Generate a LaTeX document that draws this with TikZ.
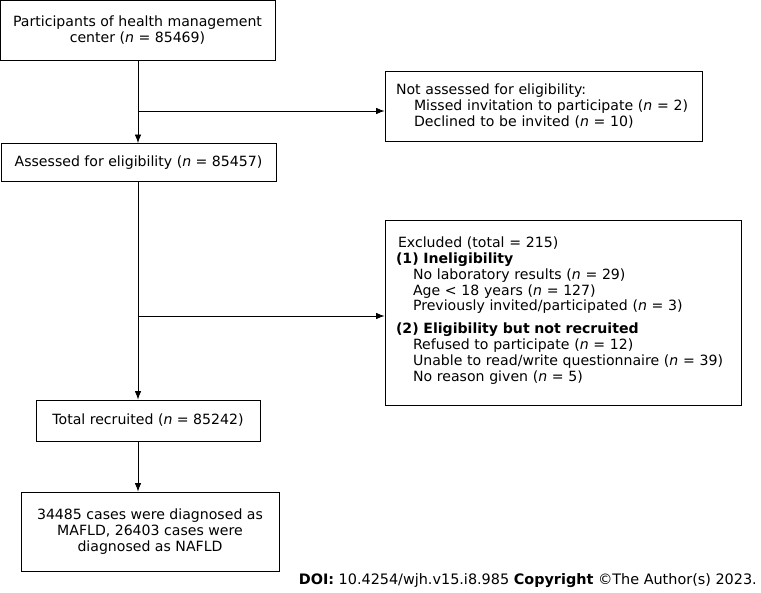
\documentclass[tikz,border=0pt]{standalone}
\usepackage{fontspec}
\setmainfont{DejaVu Sans}
\usetikzlibrary{arrows.meta}
\begin{document}
\begin{tikzpicture}[x=1pt,y=-1pt,
  every node/.style={font=\fontsize{14.1}{15.8}\selectfont},
  box/.style={draw,line width=0.8pt,inner sep=0pt,align=center},
  lbox/.style={draw,line width=0.8pt,inner ysep=0pt,inner xsep=11pt,align=left},
  conn/.style={line width=0.8pt},
  arr/.style={conn,-{Latex[length=8.5pt,width=6.5pt]}}]
\useasboundingbox (0,0) rectangle (761,593);
\node[box,minimum width=275pt,minimum height=60pt] (p) at (137.5,30) {Participants of health management\\center (\textit{n} = 85469)};
\node[box,minimum width=275pt,minimum height=38pt] (a) at (138.5,162.5) {Assessed for eligibility (\textit{n} = 85457)};
\node[box,minimum width=224pt,minimum height=41pt] (t) at (148,420.5) {Total recruited (\textit{n} = 85242)};
\node[box,minimum width=258pt,minimum height=79pt] (d) at (150,531.5) {34485 cases were diagnosed as\\MAFLD, 26403 cases were\\diagnosed as NAFLD};
\node[lbox,minimum width=317pt,minimum height=70pt,text width=295pt] (n) at (543.5,106) {Not assessed for eligibility:\\
\hspace*{18pt}Missed invitation to participate (\textit{n} = 2)\\
\hspace*{18pt}Declined to be invited (\textit{n} = 10)};
\node[lbox,minimum width=356pt,minimum height=185pt,text width=334pt] (e) at (563,312.5) {\hspace*{2pt}Excluded (total = 215)\\
\textbf{(1) Ineligibility}\\
\hspace*{17pt}No laboratory results (\textit{n} = 29)\\
\hspace*{17pt}Age \textless\ 18 years (\textit{n} = 127)\\
\hspace*{17pt}Previously invited/participated (\textit{n} = 3)\\[7pt]
\textbf{(2) Eligibility but not recruited}\\
\hspace*{17pt}Refused to participate (\textit{n} = 12)\\
\hspace*{17pt}Unable to read/write questionnaire (\textit{n} = 39)\\
\hspace*{17pt}No reason given (\textit{n} = 5)\\[-9pt]\mbox{}};
\coordinate (b1) at (138,111);
\coordinate (b2) at (138,316);
\draw[arr] (p.south -| b1) -- (a.north -| b1);
\draw[arr] (b1) -- (b1 -| n.west);
\draw[arr] (a.south -| b1) -- (t.north -| b1);
\draw[arr] (b2) -- (b2 -| e.west);
\draw[arr] (t.south -| b1) -- (d.north -| b1);
\node[anchor=east,inner sep=0pt,font=\fontsize{14.4}{16}\selectfont] (doi) at (757,581) {\textbf{DOI:} 10.4254/wjh.v15.i8.985 \textbf{Copyright} ©The Author(s) 2023.};
\end{tikzpicture}
\end{document}
